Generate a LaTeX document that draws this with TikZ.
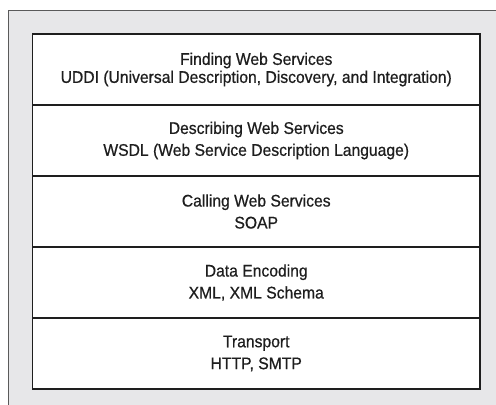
\documentclass[tikz,border=0pt]{standalone}
\usepackage{fontspec}
\setmainfont{Liberation Sans}[FakeStretch=0.93, FakeBold=0.6]
\usepackage{xcolor}
\usetikzlibrary{positioning}

\definecolor{panelgray}{HTML}{E7E7E9}
\definecolor{panelline}{HTML}{5A5A5A}
\definecolor{inkblack}{HTML}{1E1E1E}

\tikzset{
  layer/.style={draw=inkblack, line width=0.9pt, fill=white, text=inkblack,
    minimum width=11.1875cm, minimum height=1.775cm, inner sep=0pt,
    outer sep=0pt, align=center, font=\fontsize{12}{15.6}\selectfont},
  toplayer/.style={layer, font=\fontsize{12}{12.8}\selectfont}
}

\begin{document}
\begin{tikzpicture}
\useasboundingbox (0,0) rectangle (12.4,10.125);
\clip (0,0) rectangle (12.4,10.125);
% grey panel, cut off at right and bottom
\draw[panelline, fill=panelgray, line width=0.7pt] (0.2125,-1) rectangle (13.5,9.875);
% protocol stack
\node[toplayer, anchor=north] (find) at (6.40625,9.275)
  {Finding Web Services\\UDDI (Universal Description, Discovery, and Integration)};
\node[layer, below=0pt of find] (describe)
  {Describing Web Services\\WSDL (Web Service Description Language)};
\node[layer, below=0pt of describe] (call) {Calling Web Services\\SOAP};
\node[layer, below=0pt of call] (encode) {Data Encoding\\XML, XML Schema};
\node[layer, below=0pt of encode] (transport) {Transport\\HTTP, SMTP};
\end{tikzpicture}
\end{document}
